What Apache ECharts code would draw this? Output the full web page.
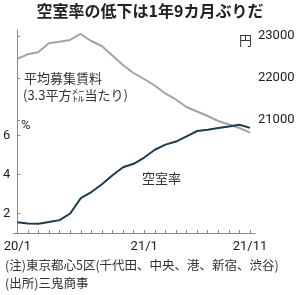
<!DOCTYPE html>
<html><head><meta charset="utf-8">
<script src="https://cdn.jsdelivr.net/npm/echarts@6/dist/echarts.min.js"></script>
<style>html,body{margin:0;padding:0;background:#fff}#c{width:300px;height:295px}</style>
</head><body><div id="c"></div>
<script>
// months: index 0 = 2020/1 ... 22 = 2021/11
const months = [0,1,2,3,4,5,6,7,8,9,10,11,12,13,14,15,16,17,18,19,20,21,22];
const xTickLabels = {0:'20/1', 12:'21/1', 22:'21/11'};
const rent = [22452,22564,22612,22826,22864,22905,23048,22881,22762,22536,22310,22119,21976,21821,21631,21488,21310,21202,21095,20976,20893,20810,20700];
const vacancy = [1.55,1.49,1.48,1.56,1.66,2.0,2.79,3.1,3.5,3.96,4.37,4.55,4.87,5.27,5.53,5.69,5.96,6.23,6.3,6.38,6.46,6.55,6.39];
const rentTicks = [21000,22000,23000];
const vacTicks = [2,4,6];

const JP = '"Noto Sans CJK JP","Noto Sans",sans-serif';
const NUM = '"Liberation Sans Narrow","Roboto","Noto Sans",sans-serif';
const axisGray = '#8a8a8a';

const chart = echarts.init(document.getElementById('c'), null, {renderer:'canvas'});
chart.setOption({
  animation:false,
  backgroundColor:'#fff',
  grid:[
    {left:13, right:45, top:30, height:113},
    {left:13, right:45, top:116, bottom:62}
  ],
  xAxis:[
    {type:'value', gridIndex:0, min:-0.38, max:22.47, show:false},
    {type:'value', gridIndex:1, min:-0.38, max:22.47,
     axisLine:{show:true, lineStyle:{color:axisGray, width:1}},
     axisTick:{show:true, inside:true, length:3, lineStyle:{color:axisGray}, customValues:months},
     axisLabel:{show:true, customValues:[0,12,22], formatter:v=>xTickLabels[Math.round(v)]||'', color:'#222', fontSize:13, fontFamily:NUM, margin:7},
     splitLine:{show:false}}
  ],
  yAxis:[
    {type:'value', gridIndex:0, position:'right', min:20452, max:23143,
     axisLine:{show:true, lineStyle:{color:axisGray}},
     axisTick:{show:true, length:3, lineStyle:{color:axisGray}, customValues:rentTicks},
     axisLabel:{show:true, customValues:rentTicks, formatter:v=>String(v), color:'#222', fontSize:13, fontFamily:NUM, margin:3},
     splitLine:{show:false}},
    {type:'value', gridIndex:1, min:1, max:7,
     axisLine:{show:true, lineStyle:{color:axisGray}},
     axisTick:{show:true, inside:true, length:3, lineStyle:{color:axisGray}, customValues:vacTicks},
     axisLabel:{show:true, customValues:vacTicks, color:'#222', fontSize:13, fontFamily:NUM, margin:3},
     splitLine:{show:false}}
  ],
  series:[
    {type:'line', xAxisIndex:0, yAxisIndex:0, data:months.map((m,i)=>[m,rent[i]]), symbol:'none',
     lineStyle:{color:'#a3a3a3', width:2}, z:2},
    {type:'line', xAxisIndex:1, yAxisIndex:1, data:months.map((m,i)=>[m,vacancy[i]]), symbol:'none',
     lineStyle:{color:'#1f3c4c', width:2}, z:3}
  ],
  graphic:[
    {type:'text', left:'center', top:3, style:{text:'空室率の低下は1年9カ月ぶりだ', font:'bold 16px '+JP, fill:'#222'}},
    {type:'text', left:239, top:34, style:{text:'円', font:'13px '+JP, fill:'#333'}},
    {type:'text', left:21, top:119, style:{text:'%', font:'13px '+NUM, fill:'#333'}},
    {type:'text', left:24, top:72, style:{text:'平均募集賃料', font:'13px '+JP, fill:'#333'}},
    {type:'text', left:23, top:89, style:{text:'(3.3平方㍍当たり)', font:'13px '+JP, fill:'#333'}},
    {type:'text', left:142, top:172, style:{text:'空室率', font:'13px '+JP, fill:'#333'}},
    {type:'text', left:5, top:259, style:{text:'(注)東京都心5区(千代田、中央、港、新宿、渋谷)', font:'12.5px '+JP, fill:'#333'}},
    {type:'text', left:5, top:277, style:{text:'(出所)三鬼商事', font:'12.5px '+JP, fill:'#333'}}
  ]
});
</script></body></html>
